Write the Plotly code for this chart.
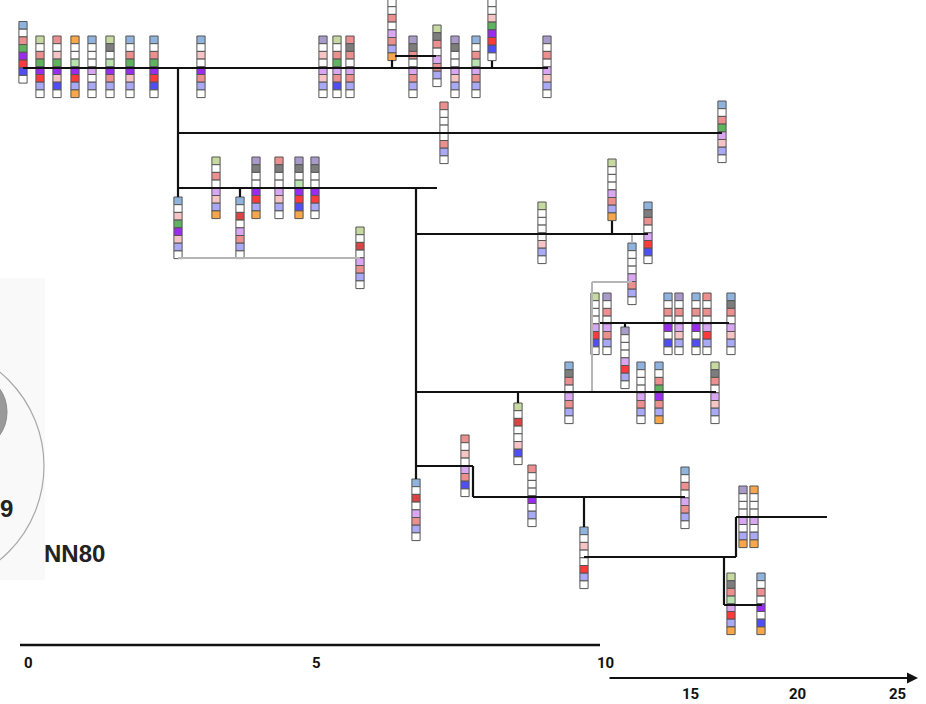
import plotly.graph_objects as go

# ---------------- data ----------------
# colour codes for the cells of each haplotype column
palette = {
    "B": "#8fb3dc", "W": "#ffffff", "r": "#eb8f8f", "p": "#f6c4c4",
    "G": "#5fb35f", "g": "#b9e2b0", "O": "#c6d9a0", "V": "#9a2cf0",
    "v": "#d9a6f2", "R": "#ff3a3a", "D": "#d94545", "N": "#4f4ff5",
    "n": "#a9a9f5", "A": "#f7a64a", "K": "#7d7d7d", "M": "#a99bc9",
}

col_x = [23, 40, 57, 75, 92, 110, 130, 154, 201, 323, 337, 350, 392, 413, 437,
         455, 476, 492, 547, 444, 722, 216, 240, 256, 279, 299, 315, 178, 360,
         542, 612, 648, 632, 595, 607, 625, 668, 679, 696, 707, 731, 641, 659,
         715, 569, 518, 416, 465, 532, 584, 685, 743, 754, 731, 761]
col_top = [21.5, 36, 36, 36, 36, 36, 36, 36, 36, 36, 36, 36, -1, 36, 25,
           36, 36, -1, 36, 102, 101, 157, 197, 157, 157, 157, 157, 197, 227,
           202, 159, 202, 243, 293, 293, 327, 293, 293, 293, 293, 293, 362, 362,
           362, 362, 403, 479, 435, 465, 527, 467, 486, 486, 573, 573]
col_cells = ["BWrGVRNW", "OWrGVRnW", "rWpGVpNW", "AWWgVRnA", "BWWWvWnW",
             "OKWgVrnW", "BWrGVpnW", "BWrGVRNW", "BWpWVrnW", "MWpWvpnW",
             "OWrGvrNW", "rKrWvrnW", "WWrWvrnA", "MKrWvrnW", "OKrWvrnW",
             "MKWWvpnW", "BWrgvrnW", "WWpGVRNW", "MWrWvpnW", "rWWWWrnW",
             "BWrGvpnW", "OWrWvpnA", "BWDWvrnW", "MKWWVRnA", "rKWWvpnW",
             "MKWgVRNA", "MKWWVRnW", "BWpGVpnW", "OWDWvrnW", "OWWWWpnW",
             "OWWWvrnA", "BKrWvRNW", "BWWWvrnW", "OWWWvRNW", "MWrWvrnW",
             "MWWWvRnW", "BWrWVWNW", "MWrWvpnW", "BWrWVWNW", "rWrWvRnW",
             "BKrWvpnW", "BWWWvrnW", "BWrGVrnA", "OKrWvpnW", "BKrWvrnW",
             "OWDWWpNW", "BWDWvrnW", "rWpWvrNW", "rWWWVWnW", "BWpWWRnW",
             "BWrWvrnW", "MWWWvWnA", "AWWWvWnA", "OKrgvRnA", "BWrWVWNA"]

# tree branches (black)
br_x0 = [23, 178, 178, 416, 600, 416, 416, 473, 584, 736, 724, 395,
         178, 240, 416, 612, 625, 518, 473, 584, 736, 724, 392, 492]
br_y0 = [68, 133, 188, 234, 323, 392, 466, 497, 557, 517, 605, 56,
         68, 188, 188, 221, 323, 392, 466, 497, 517, 557, 60, 61]
br_x1 = [548, 722, 437, 648, 729, 716, 473, 685, 736, 827, 762, 436,
         178, 240, 416, 612, 625, 518, 473, 584, 736, 724, 392, 492]
br_y1 = [68, 133, 188, 234, 323, 392, 466, 497, 557, 517, 605, 56,
         197, 197, 479, 234, 327, 403, 497, 527, 557, 605, 68, 68]

# reticulate links (grey)
gr_x0 = [178, 592, 592, 632]
gr_y0 = [258, 282, 282, 234]
gr_x1 = [360, 632, 592, 632]
gr_y1 = [258, 282, 392, 243]

# time scale
scale1_ticks = [0, 5, 10]
scale1_pos = [28, 316, 605]
scale2_ticks = [15, 20, 25]
scale2_pos = [690, 797, 897]

CELL_W = 8.2
CELL_H = 7.7

fig = go.Figure()
shapes = []

# faint panel + circle fragments on the left
shapes.append(dict(type="rect", xref="x", yref="y", x0=0, x1=45, y0=278, y1=580,
                   fillcolor="#f9f9f9", line=dict(width=0), layer="below"))
shapes.append(dict(type="circle", xref="x", yref="y", x0=-48, x1=7, y0=378, y1=446,
                   fillcolor="#9a9a9a", line=dict(color="#8a8a8a", width=1), layer="below"))
shapes.append(dict(type="circle", xref="x", yref="y", x0=-200, x1=44, y0=344, y1=588,
                   fillcolor="rgba(0,0,0,0)", line=dict(color="#a8a8a8", width=1.2), layer="below"))

# cells
for x, top, cells in zip(col_x, col_top, col_cells):
    for i, c in enumerate(cells):
        y0 = top + i * CELL_H
        shapes.append(dict(type="rect", xref="x", yref="y",
                           x0=x - CELL_W / 2, x1=x + CELL_W / 2,
                           y0=y0, y1=y0 + CELL_H,
                           fillcolor=palette[c],
                           line=dict(color="#555555", width=1), layer="below"))

# grey links
for x0, y0, x1, y1 in zip(gr_x0, gr_y0, gr_x1, gr_y1):
    fig.add_trace(go.Scatter(x=[x0, x1], y=[y0, y1], mode="lines",
                             line=dict(color="#b5b5b5", width=2),
                             hoverinfo="skip", showlegend=False))
# black branches
for x0, y0, x1, y1 in zip(br_x0, br_y0, br_x1, br_y1):
    fig.add_trace(go.Scatter(x=[x0, x1], y=[y0, y1], mode="lines",
                             line=dict(color="#111111", width=2.2),
                             hoverinfo="skip", showlegend=False))

# scale bars
fig.add_trace(go.Scatter(x=[20, 600], y=[645, 645], mode="lines",
                         line=dict(color="#111111", width=2.6),
                         hoverinfo="skip", showlegend=False))

annotations = []
for t, p in zip(scale1_ticks, scale1_pos):
    annotations.append(dict(x=p, y=663, xref="x", yref="y", text=f"<b>{t}</b>",
                            showarrow=False, font=dict(size=15, color="#111",
                            family="Liberation Sans Narrow, Roboto, Arial")))
for t, p in zip(scale2_ticks, scale2_pos):
    annotations.append(dict(x=p, y=694, xref="x", yref="y", text=f"<b>{t}</b>",
                            showarrow=False, font=dict(size=15, color="#111",
                            family="Liberation Sans Narrow, Roboto, Arial")))
annotations.append(dict(x=918, y=678, ax=608, ay=678, xref="x", yref="y",
                        axref="x", ayref="y", text="", showarrow=True,
                        arrowhead=2, arrowsize=1, arrowwidth=2.2, arrowcolor="#111"))
annotations.append(dict(x=6, y=508, xref="x", yref="y", text="<b>9</b>",
                        showarrow=False, font=dict(size=24, color="#222",
                        family="Liberation Sans, Arial")))
annotations.append(dict(x=74, y=553, xref="x", yref="y", text="<b>NN80</b>",
                        showarrow=False, font=dict(size=24, color="#222",
                        family="Liberation Sans, Arial")))

fig.update_layout(
    width=926, height=704,
    margin=dict(l=0, r=0, t=0, b=0),
    paper_bgcolor="white", plot_bgcolor="white",
    shapes=shapes, annotations=annotations,
    xaxis=dict(range=[0, 926], visible=False, fixedrange=True),
    yaxis=dict(range=[704, 0], visible=False, fixedrange=True),
    showlegend=False,
)

fig.write_html("out.html",
               config={"displayModeBar": False},
               post_script="document.body.style.margin='0';document.body.style.overflow='hidden';")
